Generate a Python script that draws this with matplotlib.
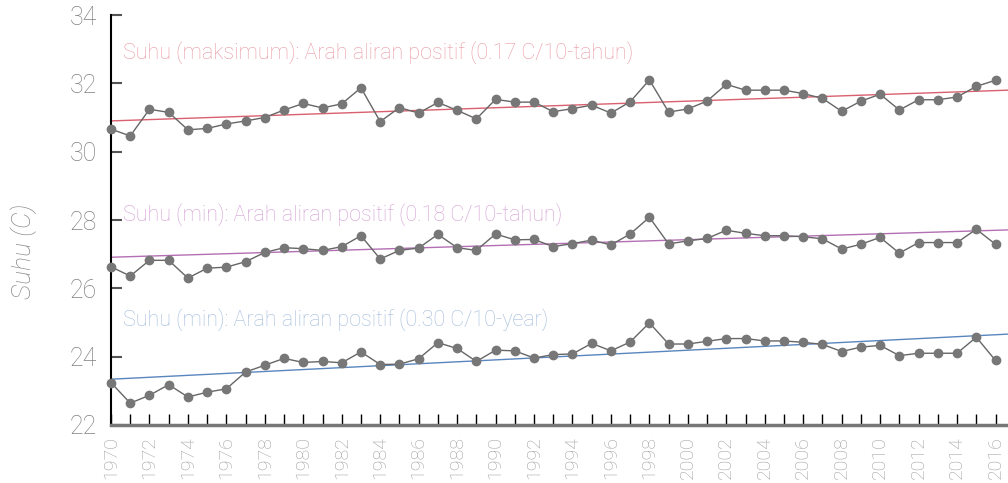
#!/usr/bin/env python3

import numpy as np
import matplotlib
matplotlib.use('Agg')
import matplotlib.pyplot as plt

years = list(range(1970, 2017))

t_max = [30.66, 30.46, 31.24, 31.15, 30.64, 30.68, 30.81, 30.90, 31.00, 31.22,
         31.41, 31.28, 31.40, 31.87, 30.88, 31.29, 31.13, 31.44, 31.21, 30.96,
         31.53, 31.45, 31.45, 31.17, 31.26, 31.36, 31.13, 31.46, 32.10, 31.16,
         31.25, 31.48, 31.97, 31.80, 31.80, 31.80, 31.70, 31.56, 31.18, 31.48,
         31.68, 31.22, 31.52, 31.52, 31.60, 31.91, 32.09]

t_min = [26.63, 26.36, 26.82, 26.82, 26.30, 26.59, 26.62, 26.78, 27.05, 27.19,
         27.16, 27.11, 27.22, 27.54, 26.86, 27.11, 27.18, 27.58, 27.19, 27.11,
         27.59, 27.42, 27.43, 27.22, 27.31, 27.41, 27.27, 27.59, 28.08, 27.30,
         27.39, 27.46, 27.70, 27.61, 27.54, 27.54, 27.51, 27.45, 27.15, 27.29,
         27.49, 27.03, 27.34, 27.34, 27.34, 27.73, 27.29]

t_min2 = [23.24, 22.64, 22.87, 23.18, 22.82, 22.96, 23.06, 23.55, 23.75, 23.95,
          23.83, 23.86, 23.82, 24.14, 23.77, 23.78, 23.94, 24.41, 24.24, 23.86,
          24.19, 24.17, 23.96, 24.06, 24.08, 24.39, 24.17, 24.43, 24.99, 24.37,
          24.37, 24.45, 24.53, 24.53, 24.46, 24.46, 24.42, 24.36, 24.15, 24.28,
          24.33, 24.03, 24.10, 24.10, 24.10, 24.57, 23.89]

# trend lines (value at start / end of x range)
trend_x = [1970, 2016.65]
trend_max = [30.90, 31.80]
trend_min = [26.91, 27.71]
trend_min2 = [23.34, 24.66]

labels = ['Suhu (maksimum): Arah aliran positif (0.17 C/10-tahun)',
          'Suhu (min): Arah aliran positif (0.18 C/10-tahun)',
          'Suhu (min): Arah aliran positif (0.30 C/10-year)']
label_y = [32.89, 28.17, 25.07]
line_colors = ['#d9606e', '#b36fb3', '#5a86bf']
text_colors = ['#e99aa3', '#d39fd3', '#a3bcdb']

plt.rcParams['font.family'] = ['Roboto', 'DejaVu Sans']

fig = plt.figure(figsize=(10.08, 4.83), dpi=100)
ax = fig.add_axes([111/1008, 58/483, 897/1008, 410/483])

for vals, tr, lc in zip([t_max, t_min, t_min2], [trend_max, trend_min, trend_min2], line_colors):
    ax.plot(trend_x, tr, color=lc, lw=1.0, zorder=2)
    ax.plot(years, vals, color='#666666', lw=1.0, marker='o', ms=6,
            mfc='#777777', mec='#777777', zorder=3, clip_on=False)

for lab, ly, tc in zip(labels, label_y, text_colors):
    ax.text(1970.65, ly, lab, color=tc, fontsize=15.5, fontweight='light',
            va='center', ha='left')

ax.set_xlim(1970, 2016.65)
ax.set_ylim(22, 34)
ax.set_yticks(np.arange(22, 35, 2))
ax.set_xticks(range(1971, 2017), minor=True)
ax.set_xticks(range(1970, 2017, 2))
ax.set_xticklabels([str(y) for y in range(1970, 2017, 2)], rotation=90,
                   fontsize=14, color='#9e9e9e', fontweight='light')
ax.set_yticklabels([str(v) for v in range(22, 35, 2)], fontsize=18,
                   color='#808080', fontweight='light')
ax.tick_params(axis='y', direction='in', length=8, width=1.5, color='#555555', pad=10)
ax.tick_params(axis='x', which='both', direction='in', length=8, width=1, color='black', pad=8)
ax.set_ylabel('Suhu (C)', fontsize=19, color='#888888', style='italic',
              fontweight='light')
ax.yaxis.set_label_coords(-0.083, 0.424)

for s in ['top', 'right']:
    ax.spines[s].set_visible(False)
ax.spines['left'].set_color('black')
ax.spines['left'].set_linewidth(1.5)
ax.spines['bottom'].set_color('#777777')
ax.spines['bottom'].set_linewidth(2.5)

plt.savefig('out.png', dpi=100)
